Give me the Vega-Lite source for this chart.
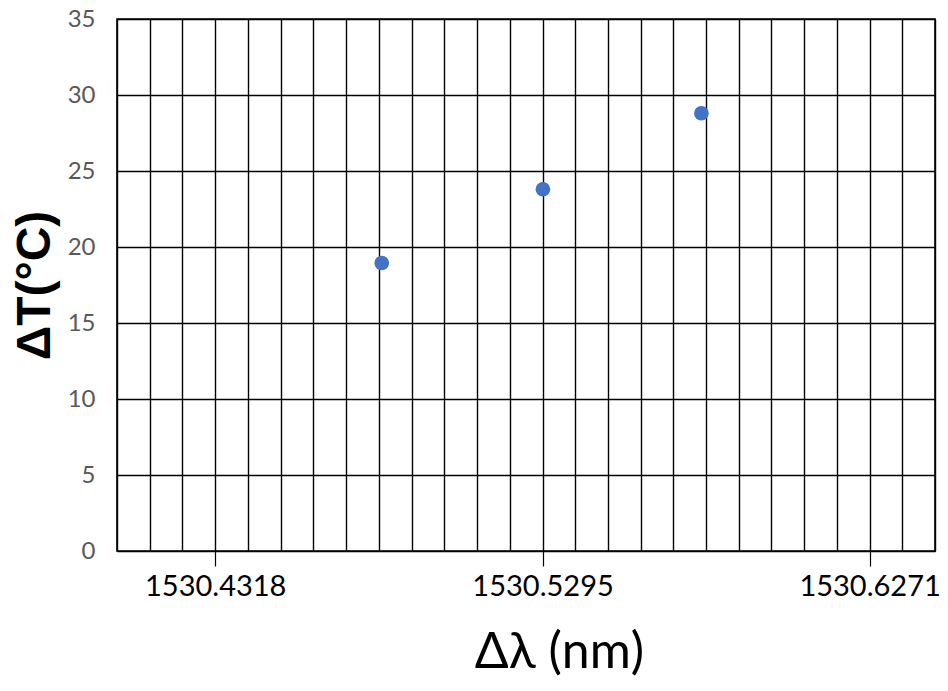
{
  "$schema": "https://vega.github.io/schema/vega-lite/v6.json",
  "width": 818,
  "height": 532,
  "autosize": {"type": "none"},
  "padding": {"left": 117, "top": 19, "right": 13, "bottom": 140},
  "background": "white",
  "config": {
    "view": {"stroke": "#000000", "strokeWidth": 1.6},
    "axis": {"domain": false}
  },
  "data": {
    "values": [
      {"wavelength": 1530.4815, "dT": 18.95},
      {"wavelength": 1530.5296, "dT": 23.8},
      {"wavelength": 1530.5769, "dT": 28.8}
    ]
  },
  "mark": {"type": "circle", "size": 215, "color": "#4472C4", "opacity": 1},
  "encoding": {
    "x": {
      "field": "wavelength",
      "type": "quantitative",
      "scale": {"domain": [1530.40249, 1530.64662], "nice": false, "zero": false},
      "axis": {
        "title": "Δλ (nm)",
        "titleFont": "Lato",
        "titleFontSize": 50,
        "titleFontWeight": "normal",
        "titleColor": "#000000",
        "titlePadding": 26,
        "titleX": 442,
        "values": [1530.40249, 1530.41226, 1530.42203, 1530.4318, 1530.44157, 1530.45134, 1530.46111, 1530.47088, 1530.48065, 1530.49042, 1530.50019, 1530.50996, 1530.51973, 1530.5295, 1530.53926, 1530.54902, 1530.55878, 1530.56854, 1530.5783, 1530.58806, 1530.59782, 1530.60758, 1530.61734, 1530.6271, 1530.63686, 1530.64662],
        "grid": true,
        "gridColor": "#000000",
        "gridWidth": 1.4,
        "gridOpacity": 1,
        "ticks": true,
        "tickSize": 15,
        "tickWidth": 1.2,
        "tickColor": "#000000",
        "tickOpacity": {"condition": {"test": "abs(datum.value-1530.4318)<0.001 || abs(datum.value-1530.5295)<0.001 || abs(datum.value-1530.6271)<0.001", "value": 1}, "value": 0},
        "labelExpr": "abs(datum.value-1530.4318)<0.001 || abs(datum.value-1530.5295)<0.001 || abs(datum.value-1530.6271)<0.001 ? format(datum.value, '.4f') : ''",
        "labelFont": "Lato",
        "labelFontSize": 29,
        "labelColor": "#000000",
        "labelPadding": 6,
        "labelOverlap": false,
        "labelFlush": false,
        "labelBound": false
      }
    },
    "y": {
      "field": "dT",
      "type": "quantitative",
      "scale": {"domain": [0, 35], "nice": false},
      "axis": {
        "title": "ΔT(°C)",
        "titleFont": "Liberation Sans",
        "titleFontSize": 48,
        "titleFontWeight": "bold",
        "titleColor": "#000000",
        "titlePadding": 8,
        "values": [0, 5, 10, 15, 20, 25, 30, 35],
        "grid": true,
        "gridColor": "#000000",
        "gridWidth": 1.4,
        "gridOpacity": 1,
        "ticks": false,
        "labelFont": "Lato",
        "labelFontSize": 24,
        "labelColor": "#595959",
        "labelPadding": 22
      }
    }
  }
}
